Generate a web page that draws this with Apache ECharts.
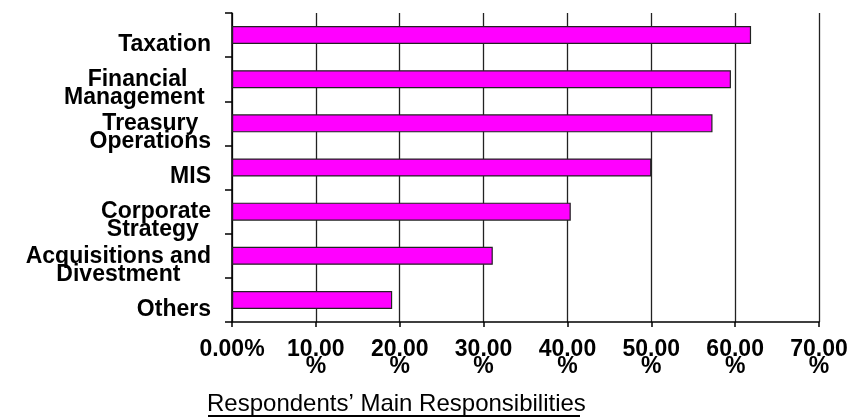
<!DOCTYPE html>
<html>
<head>
<meta charset="utf-8">
<script src="https://cdn.jsdelivr.net/npm/echarts@6/dist/echarts.min.js"></script>
<style>
  html, body { margin: 0; padding: 0; background: #fff; }
  #chart { width: 854px; height: 419px; }
</style>
</head>
<body>
<div id="chart"></div>
<script>
// Share of respondents naming each area as a main responsibility (%)
const categories = [
  'Taxation',
  'Financial\nManagement ',
  'Treasury\nOperations',
  'MIS',
  'Corporate\nStrategy ',
  'Acquisitions and\nDivestment',
  'Others'
];
const shares = [61.9, 59.5, 57.3, 50.0, 40.4, 31.1, 19.1];
const xTickLabels = ['0.00%', '10.00\n%', '20.00\n%', '30.00\n%', '40.00\n%', '50.00\n%', '60.00\n%', '70.00\n%'];
const chartTitle = 'Respondents\u2019 Main Responsibilities';

const FONT = '"Liberation Sans", Arial, sans-serif';

const chart = echarts.init(document.getElementById('chart'), null, { renderer: 'canvas' });

chart.setOption({
  animation: false,
  backgroundColor: '#ffffff',
  title: {
    text: chartTitle,
    left: 207,
    top: 392,
    padding: 0,
    textStyle: {
      fontFamily: FONT,
      fontSize: 24,
      fontWeight: 'normal',
      color: '#000'
    }
  },
  // underline beneath the caption
  graphic: [{
    type: 'rect',
    shape: { x: 208, y: 415, width: 372, height: 2 },
    style: { fill: '#000' },
    silent: true
  }],
  grid: {
    left: 232,
    right: 35,
    top: 13,
    bottom: 97,
    containLabel: false
  },
  xAxis: {
    type: 'value',
    min: 0,
    max: 70,
    interval: 10,
    axisLine: { show: true, lineStyle: { color: '#000', width: 1.5 } },
    axisTick: { show: true, length: 5, lineStyle: { color: '#000', width: 1.5 } },
    splitLine: { show: true, lineStyle: { color: '#222', width: 1.3 } },
    axisLabel: {
      margin: 19,
      fontFamily: FONT,
      fontSize: 23,
      fontWeight: 'bold',
      color: '#000',
      lineHeight: 17,
      formatter: (v) => xTickLabels[Math.round(v / 10)]
    }
  },
  yAxis: {
    type: 'category',
    inverse: true,
    data: categories,
    axisLine: { show: true, lineStyle: { color: '#000', width: 1.5 } },
    axisTick: { show: true, length: 7, lineStyle: { color: '#000', width: 1.5 } },
    splitLine: { show: false },
    axisLabel: {
      interval: 0,
      showMinLabel: true,
      showMaxLabel: true,
      hideOverlap: false,
      margin: 21,
      padding: [19, 0, 0, 0],
      fontFamily: FONT,
      fontSize: 23,
      fontWeight: 'bold',
      color: '#000',
      lineHeight: 18,
      formatter: (v) => v.split('\n').map((s) => '{c|' + s + '}').join('\n'),
      rich: {
        c: {
          align: 'center',
          fontFamily: FONT,
          fontSize: 23,
          fontWeight: 'bold',
          color: '#000',
          lineHeight: 18
        }
      }
    }
  },
  series: [{
    type: 'bar',
    data: shares,
    barWidth: 18,
    itemStyle: {
      color: '#ff00ff',
      borderColor: '#222',
      borderWidth: 1.2
    },
    silent: true
  }]
});
</script>
</body>
</html>
